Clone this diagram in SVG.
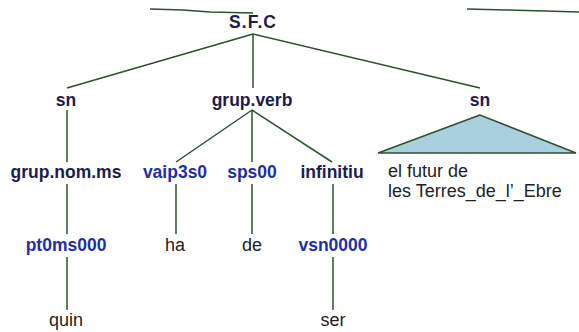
<svg xmlns="http://www.w3.org/2000/svg" width="579" height="332" viewBox="0 0 579 332">
<style>
.e{stroke:#2f4f2f;stroke-width:1.5;fill:none}
.c{font-family:"Liberation Sans",Arial,sans-serif;font-weight:bold;font-size:17.5px;fill:#1c1c4e;text-anchor:middle}
.p{font-family:"Liberation Sans",Arial,sans-serif;font-weight:bold;font-size:17.5px;fill:#1f2fa6;text-anchor:middle}
.w{font-family:"Liberation Sans",Arial,sans-serif;font-size:18px;fill:#222;text-anchor:middle}
.wl{font-family:"Liberation Sans",Arial,sans-serif;font-size:18px;fill:#222}
</style>
<rect width="579" height="332" fill="#fff"/>
<g id="connectors">
<polyline class="e" points="150,9 183,10 210,12 253,13"/>
<polyline class="e" points="467,9 506,10 545,11 579,12"/>
<line class="e" x1="253" y1="34" x2="67" y2="88"/>
<line class="e" x1="253" y1="34" x2="253" y2="88"/>
<line class="e" x1="253" y1="34" x2="480" y2="88"/>
<line class="e" x1="67" y1="110" x2="67" y2="162"/>
<line class="e" x1="252" y1="110" x2="176" y2="162"/>
<line class="e" x1="252" y1="110" x2="252" y2="162"/>
<line class="e" x1="252" y1="110" x2="332" y2="162"/>
<line class="e" x1="67" y1="184" x2="67" y2="234"/>
<line class="e" x1="176" y1="184" x2="176" y2="234"/>
<line class="e" x1="252" y1="184" x2="252" y2="234"/>
<line class="e" x1="333" y1="184" x2="333" y2="234"/>
<line class="e" x1="67" y1="257" x2="67" y2="310"/>
<line class="e" x1="333" y1="257" x2="333" y2="310"/>
</g>
<g id="sfc"><text class="c" x="253" y="28" letter-spacing="1">S.F.C</text></g>
<g id="sn1"><text class="c" x="66" y="106">sn</text></g>
<g id="grupverb"><text class="c" x="252" y="106">grup.verb</text></g>
<g id="sn2"><text class="c" x="480" y="106">sn</text>
<polygon points="480,115 378,153 576,153" fill="#a9d1dd" stroke="#2f4f2f" stroke-width="1.5"/>
<text class="wl" x="388" y="177">el futur de</text>
<text class="wl" x="388" y="197">les Terres_de_l’_Ebre</text></g>
<g id="grupnom"><text class="c" x="66" y="178">grup.nom.ms</text></g>
<g id="vaip"><text class="p" x="175" y="178">vaip3s0</text></g>
<g id="sps"><text class="p" x="252" y="178">sps00</text></g>
<g id="inf"><text class="c" x="332" y="178">infinitiu</text></g>
<g id="pt0"><text class="p" x="66" y="251">pt0ms000</text></g>
<g id="ha"><text class="w" x="175" y="251">ha</text></g>
<g id="de"><text class="w" x="252" y="251">de</text></g>
<g id="vsn"><text class="p" x="333" y="251">vsn0000</text></g>
<g id="quin"><text class="w" x="66" y="326">quin</text></g>
<g id="ser"><text class="w" x="333" y="326">ser</text></g>
</svg>
